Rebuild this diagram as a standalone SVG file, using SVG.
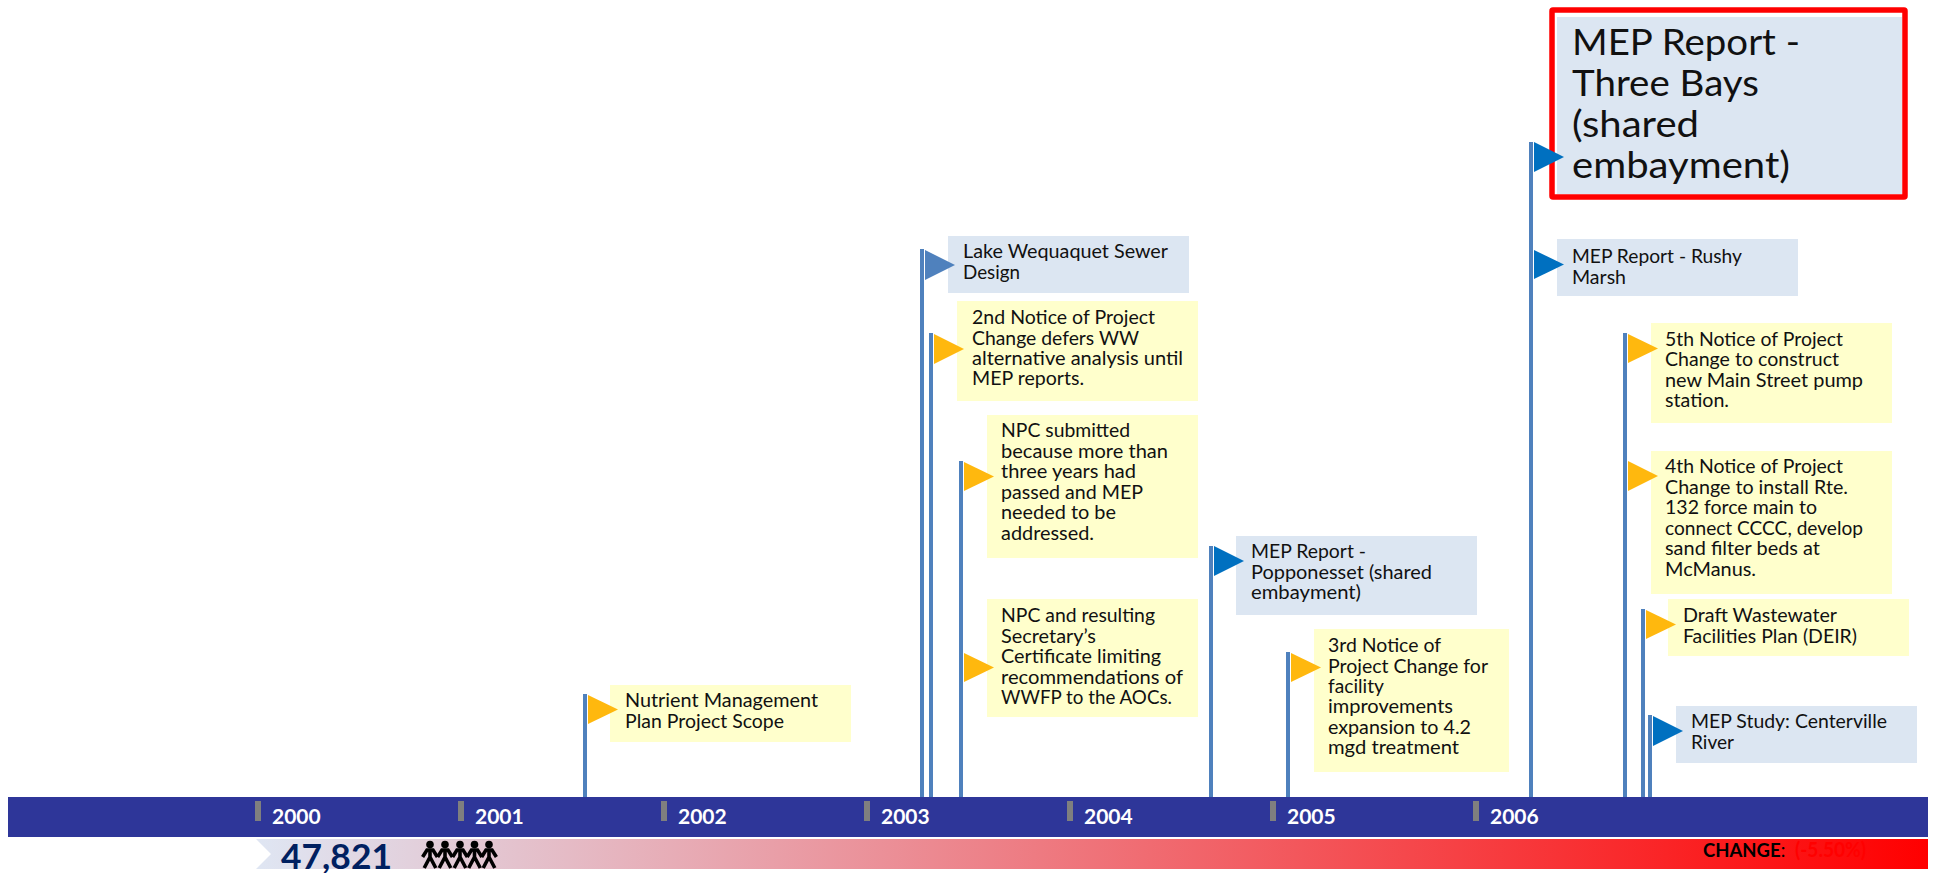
<svg xmlns="http://www.w3.org/2000/svg" xmlns:xlink="http://www.w3.org/1999/xlink" width="1933" height="873" viewBox="0 0 1933 873">
<style>
text{font-family:"Lato","Carlito","Open Sans",sans-serif;font-size:18.5px;fill:#111}
.y{fill:#ffffcc}.b{fill:#dce6f2}
.gold{fill:#ffb80e}.blue{fill:#0070c0}.steel{fill:#4f81bd}
.pole{stroke:#4f81bd;stroke-width:4;fill:none}
.tick{fill:#7f7f7f}
.yr{font-size:21px;font-weight:700;fill:#fff}
.big{font-size:37px}
.man{stroke:#000;stroke-width:3.6;fill:none}
</style>
<defs>
<linearGradient id="g" gradientUnits="userSpaceOnUse" x1="256" y1="0" x2="1928" y2="0"><stop offset="0" stop-color="#dfe6f3"/><stop offset="1" stop-color="#ff0000"/></linearGradient>
<g id="man"><circle cx="0" cy="3.6" r="3.8" fill="#000"/><path class="man" d="M-7.4,16 L-3,9 L3,9 L7.4,16 M0,9 V17 M-5.8,27 L0,16 L5.8,27"/></g>
</defs>
<rect width="1933" height="873" fill="#fff"/>
<g id="connectors">
<path class="pole" d="M585,694V797M922,249V797M931,333V797M961,461V797M1211,546V797M1288,652V797M1531,142V797M1625,333V797M1643,609V797M1650,715V797"/>
</g>
<g id="timeline">
<rect x="8" y="797" width="1920" height="40" fill="#2e3699"/>
<rect class="tick" x="255" y="801" width="6" height="20"/><text class="yr" x="272" y="824">2000</text>
<rect class="tick" x="458" y="801" width="6" height="20"/><text class="yr" x="475" y="824">2001</text>
<rect class="tick" x="661" y="801" width="6" height="20"/><text class="yr" x="678" y="824">2002</text>
<rect class="tick" x="864" y="801" width="6" height="20"/><text class="yr" x="881" y="824">2003</text>
<rect class="tick" x="1067" y="801" width="6" height="20"/><text class="yr" x="1084" y="824">2004</text>
<rect class="tick" x="1270" y="801" width="6" height="20"/><text class="yr" x="1287" y="824">2005</text>
<rect class="tick" x="1473" y="801" width="6" height="20"/><text class="yr" x="1490" y="824">2006</text>
</g>
<g id="population">
<polygon points="256,839 1928,839 1928,869 256,869 271,854" fill="url(#g)"/>
<text x="281" y="869" textLength="111" lengthAdjust="spacingAndGlyphs" style="font-size:35.2px;font-weight:700;fill:#002060">47,821</text>
<use xlink:href="#man" href="#man" x="430" y="841"/><use xlink:href="#man" href="#man" x="445" y="841"/><use xlink:href="#man" href="#man" x="460" y="841"/><use xlink:href="#man" href="#man" x="474.5" y="841"/><use xlink:href="#man" href="#man" x="489" y="841"/>
<text x="1703" y="857" style="font-size:18.5px;font-weight:700;fill:#000">CHANGE<tspan font-weight="400">:</tspan></text>
<text x="1795" y="857" textLength="71" lengthAdjust="spacingAndGlyphs" style="font-size:20px;font-weight:700;fill:#ff0000">(-5.50%)</text>
</g>
<g id="n1"><rect class="y" x="610" y="685" width="241" height="57"/><polygon class="gold" points="588,695 618,709.500 588,724"/><text x="625" y="707" textLength="193" lengthAdjust="spacingAndGlyphs">Nutrient Management</text><text x="625" y="728" textLength="159" lengthAdjust="spacingAndGlyphs">Plan Project Scope</text></g>
<g id="n2"><rect class="b" x="948" y="236" width="241" height="57"/><polygon class="steel" points="925,250 955,265 925,280"/><text x="963" y="258" textLength="205" lengthAdjust="spacingAndGlyphs">Lake Wequaquet Sewer</text><text x="963" y="279" textLength="57" lengthAdjust="spacingAndGlyphs">Design</text></g>
<g id="n3"><rect class="y" x="957" y="301" width="241" height="100"/><polygon class="gold" points="934,334 964,349 934,364"/><text x="972" y="324" textLength="183" lengthAdjust="spacingAndGlyphs">2nd Notice of Project</text><text x="972" y="345" textLength="167" lengthAdjust="spacingAndGlyphs">Change defers WW</text><text x="972" y="365" textLength="211" lengthAdjust="spacingAndGlyphs">alternative analysis until</text><text x="972" y="385" textLength="112" lengthAdjust="spacingAndGlyphs">MEP reports.</text></g>
<g id="n4"><rect class="y" x="987" y="415" width="211" height="143"/><polygon class="gold" points="964,462 994,476.500 964,491"/><text x="1001" y="437" textLength="129" lengthAdjust="spacingAndGlyphs">NPC submitted</text><text x="1001" y="457.500" textLength="167" lengthAdjust="spacingAndGlyphs">because more than</text><text x="1001" y="478" textLength="135" lengthAdjust="spacingAndGlyphs">three years had</text><text x="1001" y="498.500" textLength="142" lengthAdjust="spacingAndGlyphs">passed and MEP</text><text x="1001" y="519" textLength="115" lengthAdjust="spacingAndGlyphs">needed to be</text><text x="1001" y="539.500" textLength="93" lengthAdjust="spacingAndGlyphs">addressed.</text></g>
<g id="n5"><rect class="y" x="987" y="599" width="211" height="118"/><polygon class="gold" points="964,653 994,667.500 964,682"/><text x="1001" y="622" textLength="154" lengthAdjust="spacingAndGlyphs">NPC and resulting</text><text x="1001" y="642.500" textLength="95" lengthAdjust="spacingAndGlyphs">Secretary’s</text><text x="1001" y="663" textLength="160" lengthAdjust="spacingAndGlyphs">Certificate limiting</text><text x="1001" y="683.500" textLength="182" lengthAdjust="spacingAndGlyphs">recommendations of</text><text x="1001" y="704" textLength="171" lengthAdjust="spacingAndGlyphs">WWFP to the AOCs.</text></g>
<g id="n6"><rect class="b" x="1236" y="536" width="241" height="79"/><polygon class="blue" points="1214,546 1244,561 1214,576"/><text x="1251" y="558" textLength="115" lengthAdjust="spacingAndGlyphs">MEP Report -</text><text x="1251" y="579" textLength="181" lengthAdjust="spacingAndGlyphs">Popponesset (shared</text><text x="1251" y="599" textLength="110" lengthAdjust="spacingAndGlyphs">embayment)</text></g>
<g id="n7"><rect class="y" x="1314" y="629" width="195" height="143"/><polygon class="gold" points="1291,653 1321,667.500 1291,682"/><text x="1328" y="652" textLength="113" lengthAdjust="spacingAndGlyphs">3rd Notice of</text><text x="1328" y="672.500" textLength="160" lengthAdjust="spacingAndGlyphs">Project Change for</text><text x="1328" y="693" textLength="56" lengthAdjust="spacingAndGlyphs">facility</text><text x="1328" y="713" textLength="125" lengthAdjust="spacingAndGlyphs">improvements</text><text x="1328" y="733.500" textLength="143" lengthAdjust="spacingAndGlyphs">expansion to 4.2</text><text x="1328" y="754" textLength="131" lengthAdjust="spacingAndGlyphs">mgd treatment</text></g>
<g id="n8"><rect class="b" x="1557" y="17" width="345" height="177"/><rect x="1552" y="10" width="353" height="187" rx="1" fill="none" stroke="#ff0000" stroke-width="5.500"/><polygon class="blue" points="1534,142 1564,157 1534,172"/><text class="big" x="1572" y="54.500" textLength="228" lengthAdjust="spacingAndGlyphs">MEP Report -</text><text class="big" x="1572" y="95.500" textLength="187" lengthAdjust="spacingAndGlyphs">Three Bays</text><text class="big" x="1572" y="136.500" textLength="127" lengthAdjust="spacingAndGlyphs">(shared</text><text class="big" x="1572" y="177.500" textLength="218" lengthAdjust="spacingAndGlyphs">embayment)</text></g>
<g id="n9"><rect class="b" x="1557" y="239" width="241" height="57"/><polygon class="blue" points="1534,250 1564,264.500 1534,279"/><text x="1572" y="263" textLength="170" lengthAdjust="spacingAndGlyphs">MEP Report - Rushy</text><text x="1572" y="283.500" textLength="54" lengthAdjust="spacingAndGlyphs">Marsh</text></g>
<g id="n10"><rect class="y" x="1651" y="323" width="241" height="100"/><polygon class="gold" points="1628,334 1658,348.500 1628,363"/><text x="1665" y="346" textLength="178" lengthAdjust="spacingAndGlyphs">5th Notice of Project</text><text x="1665" y="366" textLength="174" lengthAdjust="spacingAndGlyphs">Change to construct</text><text x="1665" y="387" textLength="198" lengthAdjust="spacingAndGlyphs">new Main Street pump</text><text x="1665" y="407" textLength="64" lengthAdjust="spacingAndGlyphs">station.</text></g>
<g id="n11"><rect class="y" x="1651" y="451" width="241" height="143"/><polygon class="gold" points="1628,461 1658,476 1628,491"/><text x="1665" y="473" textLength="178" lengthAdjust="spacingAndGlyphs">4th Notice of Project</text><text x="1665" y="493.500" textLength="183" lengthAdjust="spacingAndGlyphs">Change to install Rte.</text><text x="1665" y="514" textLength="152" lengthAdjust="spacingAndGlyphs">132 force main to</text><text x="1665" y="534.500" textLength="198" lengthAdjust="spacingAndGlyphs">connect CCCC, develop</text><text x="1665" y="555" textLength="155" lengthAdjust="spacingAndGlyphs">sand filter beds at</text><text x="1665" y="575.500" textLength="91" lengthAdjust="spacingAndGlyphs">McManus.</text></g>
<g id="n12"><rect class="y" x="1668" y="599" width="241" height="57"/><polygon class="gold" points="1646,610 1676,624.500 1646,639"/><text x="1683" y="622" textLength="154" lengthAdjust="spacingAndGlyphs">Draft Wastewater</text><text x="1683" y="642.500" textLength="174" lengthAdjust="spacingAndGlyphs">Facilities Plan (DEIR)</text></g>
<g id="n13"><rect class="b" x="1676" y="706" width="241" height="57"/><polygon class="blue" points="1653,716 1683,731 1653,746"/><text x="1691" y="728" textLength="196" lengthAdjust="spacingAndGlyphs">MEP Study: Centerville</text><text x="1691" y="748.500" textLength="43" lengthAdjust="spacingAndGlyphs">River</text></g>
</svg>
